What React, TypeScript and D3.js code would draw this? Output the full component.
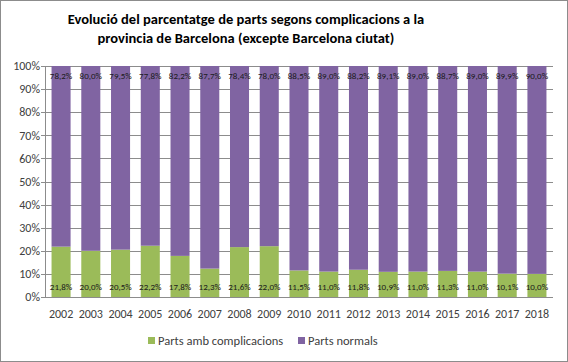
import React, { useEffect, useRef } from "react";
import * as d3 from "d3";

const years = ["2002", "2003", "2004", "2005", "2006", "2007", "2008", "2009", "2010", "2011", "2012", "2013", "2014", "2015", "2016", "2017", "2018"];
const complicacions = [21.8, 20.0, 20.5, 22.2, 17.8, 12.3, 21.6, 22.0, 11.5, 11.0, 11.8, 10.9, 11.0, 11.3, 11.0, 10.1, 10.0];
const normals = [78.2, 80.0, 79.5, 77.8, 82.2, 87.7, 78.4, 78.0, 88.5, 89.0, 88.2, 89.1, 89.0, 88.7, 89.0, 89.9, 90.0];
const yTicks = [0, 10, 20, 30, 40, 50, 60, 70, 80, 90, 100];
const titleLines = [
  "Evolució del parcentatge de parts segons complicacions a la",
  "provincia de Barcelona (excepte Barcelona ciutat)",
];
const seriesNames = ["Parts amb complicacions", "Parts normals"];

export default function App() {
  const ref = useRef<SVGSVGElement>(null);

  useEffect(() => {
    const width = 568;
    const height = 362;
    const margin = { top: 66, right: 15, bottom: 65, left: 45 };
    const green = "#9bbb59";
    const purple = "#8064a2";
    const font = "Calibri, Carlito, Lato, sans-serif";

    const svg = d3.select(ref.current);
    svg.selectAll("*").remove();

    // chart border
    svg
      .append("rect")
      .attr("x", 0.5)
      .attr("y", 0.5)
      .attr("width", width - 1)
      .attr("height", height - 1)
      .attr("fill", "#fff")
      .attr("stroke", "#8c8c8c");

    // title
    svg
      .append("g")
      .selectAll("text")
      .data(titleLines)
      .join("text")
      .attr("x", 246)
      .attr("y", (d, i) => 24 + i * 19)
      .attr("text-anchor", "middle")
      .attr("font-family", font)
      .attr("font-weight", "bold")
      .attr("font-size", 14.5)
      .attr("fill", "#000")
      .text((d) => d);

    const x = d3
      .scaleBand()
      .domain(years)
      .range([margin.left, width - margin.right])
      .paddingInner(0.36)
      .paddingOuter(0.22);

    const y = d3
      .scaleLinear()
      .domain([0, 100])
      .range([height - margin.bottom, margin.top]);

    // gridlines
    svg
      .append("g")
      .selectAll("line")
      .data(yTicks)
      .join("line")
      .attr("x1", margin.left - 4)
      .attr("x2", width - margin.right)
      .attr("y1", (d) => Math.round(y(d)) + 0.5)
      .attr("y2", (d) => Math.round(y(d)) + 0.5)
      .attr("stroke", "#8c8c8c")
      .attr("stroke-width", 1);

    // y axis line
    svg
      .append("line")
      .attr("x1", margin.left + 0.5)
      .attr("x2", margin.left + 0.5)
      .attr("y1", y(100))
      .attr("y2", y(0))
      .attr("stroke", "#8c8c8c");

    // y tick labels
    svg
      .append("g")
      .selectAll("text")
      .data(yTicks)
      .join("text")
      .attr("x", margin.left - 5)
      .attr("y", (d) => y(d))
      .attr("dy", "0.35em")
      .attr("text-anchor", "end")
      .attr("font-family", font)
      .attr("font-size", 12)
      .attr("fill", "#404040")
      .text((d) => d + "%");

    // stacked bars
    const rows = years.map((yr, i) => ({ year: yr, complicacions: complicacions[i], normals: normals[i] }));
    const stack = d3.stack<any>().keys(["complicacions", "normals"]);
    const series = stack(rows);
    const colors = [green, purple];

    svg
      .append("g")
      .selectAll("g")
      .data(series)
      .join("g")
      .attr("fill", (d, i) => colors[i])
      .selectAll("rect")
      .data((d) => d)
      .join("rect")
      .attr("x", (d) => x(d.data.year)!)
      .attr("width", x.bandwidth())
      .attr("y", (d) => y(d[1]))
      .attr("height", (d) => y(d[0]) - y(d[1]));

    // value labels
    const fmt = (v: number) => v.toFixed(1).replace(".", ",") + "%";
    svg
      .append("g")
      .selectAll("text")
      .data(rows)
      .join("text")
      .attr("x", (d) => x(d.year)! + x.bandwidth() / 2)
      .attr("y", y(100) + 13)
      .attr("text-anchor", "middle")
      .attr("font-family", font)
      .attr("font-size", 9)
      .attr("fill", "#1a1a1a")
      .text((d) => fmt(d.normals));

    svg
      .append("g")
      .selectAll("text")
      .data(rows)
      .join("text")
      .attr("x", (d) => x(d.year)! + x.bandwidth() / 2)
      .attr("y", y(0) - 7)
      .attr("text-anchor", "middle")
      .attr("font-family", font)
      .attr("font-size", 9)
      .attr("fill", "#1a1a1a")
      .text((d) => fmt(d.complicacions));

    // x labels
    svg
      .append("g")
      .selectAll("text")
      .data(years)
      .join("text")
      .attr("x", (d) => x(d)! + x.bandwidth() / 2)
      .attr("y", y(0) + 21)
      .attr("text-anchor", "middle")
      .attr("font-family", font)
      .attr("font-size", 12)
      .attr("fill", "#404040")
      .text((d) => d);

    // legend
    const legendX = [148, 298];
    const legend = svg
      .append("g")
      .selectAll("g")
      .data(seriesNames)
      .join("g")
      .attr("transform", (d, i) => `translate(${legendX[i]},337)`);
    legend
      .append("rect")
      .attr("width", 7)
      .attr("height", 7)
      .attr("fill", (d, i) => colors[i]);
    legend
      .append("text")
      .attr("x", 10)
      .attr("y", 4)
      .attr("dy", "0.35em")
      .attr("font-family", font)
      .attr("font-size", 12.5)
      .attr("fill", "#404040")
      .text((d) => d);
  }, []);

  return (
    <svg
      ref={ref}
      width={568}
      height={362}
      style={{ position: "absolute", left: 0, top: 0 }}
    />
  );
}
